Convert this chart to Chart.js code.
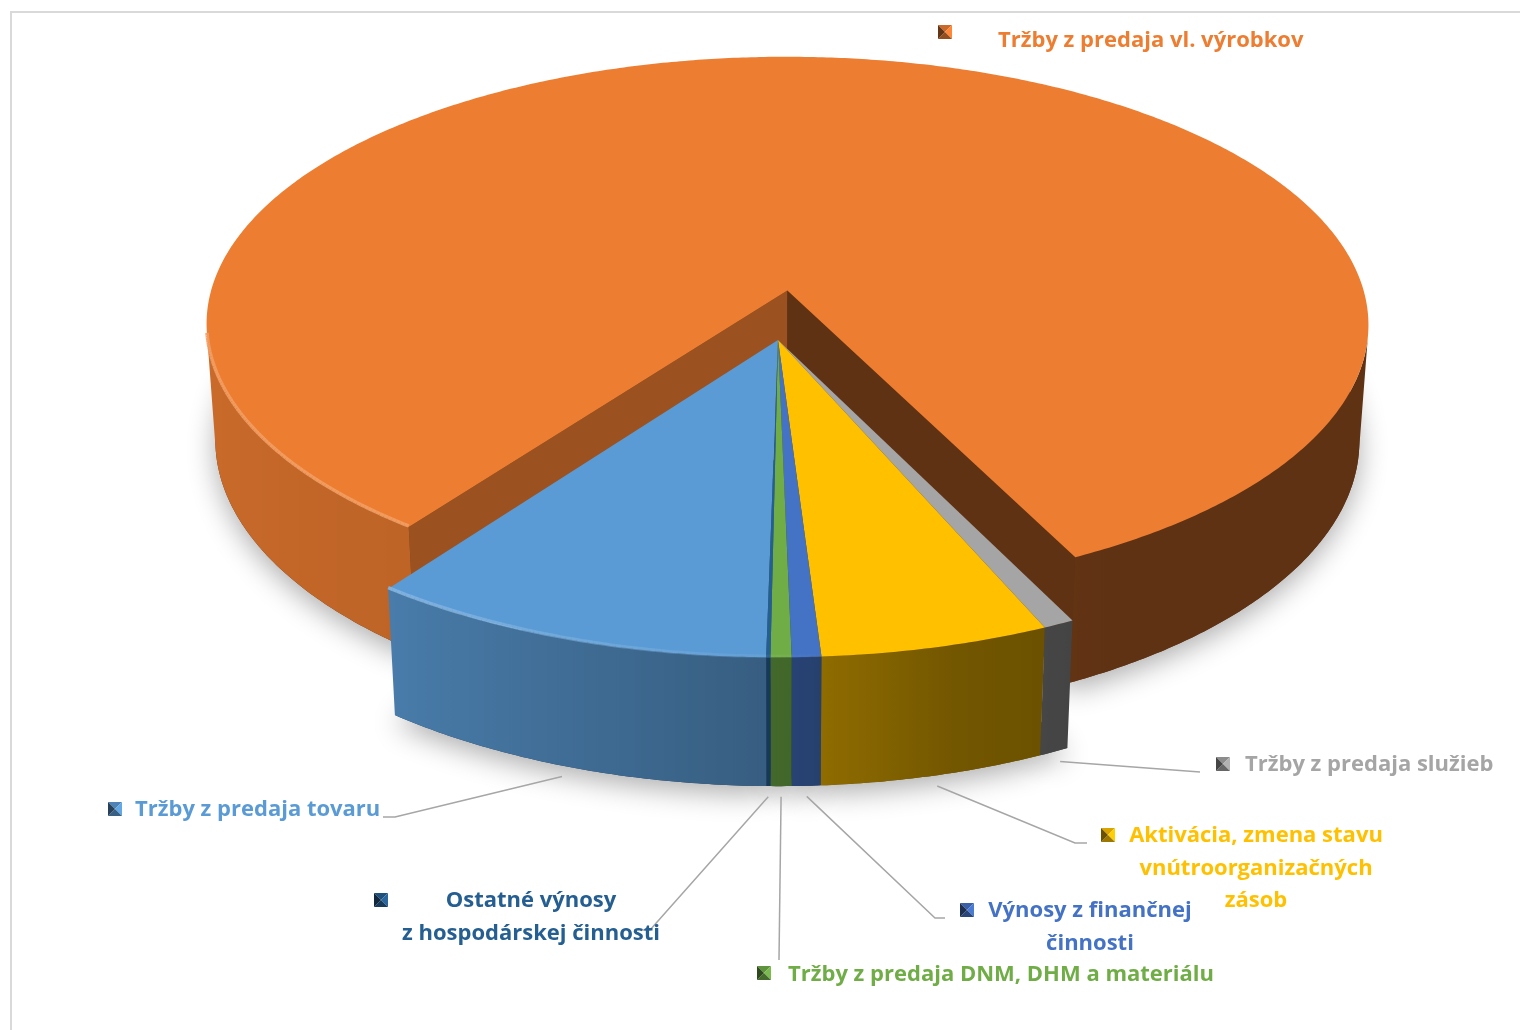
<!DOCTYPE html>
<html>
<head>
<meta charset="utf-8">
<title>Výnosy</title>
<script src="https://cdn.jsdelivr.net/npm/chart.js@4.4.1/dist/chart.umd.min.js"></script>
<style>
  html, body { margin: 0; padding: 0; background: #fff; }
  #wrap { position: relative; width: 1520px; height: 1030px; overflow: hidden; }
  #wrap canvas { position: absolute; left: 0; top: 0; }
  #frame { position: absolute; left: 10px; top: 11px; right: -4px; bottom: -4px;
           border-left: 2px solid #d9d9d9; border-top: 2px solid #d9d9d9; pointer-events: none; }
</style>
</head>
<body>
<div id="wrap">
  <canvas id="pie" width="1520" height="1030"></canvas>
  <div id="frame"></div>
</div>
<script>
// ---- data ---------------------------------------------------------------
const categories = [
  'Tržby z predaja tovaru',
  'Tržby z predaja vl. výrobkov',
  'Tržby z predaja služieb',
  'Aktivácia, zmena stavu vnútroorganizačných zásob',
  'Výnosy z finančnej činnosti',
  'Tržby z predaja DNM, DHM a materiálu',
  'Ostatné výnosy z hospodárskej činnosti'
];
// how each category label is broken into lines
const labelLines = [
  ['Tržby z predaja tovaru'],
  ['Tržby z predaja vl. výrobkov'],
  ['Tržby z predaja služieb'],
  ['Aktivácia, zmena stavu', 'vnútroorganizačných', 'zásob'],
  ['Výnosy z finančnej', 'činnosti'],
  ['Tržby z predaja DNM, DHM a materiálu'],
  ['Ostatné výnosy', 'z hospodárskej činnosti']
];
const shares = [9.8, 82.7, 0.75, 5.5, 0.7, 0.5, 0.1];   // % of total revenue
const sliceColors = ['#5B9BD5', '#ED7D31', '#A5A5A5', '#FFC000', '#4472C4', '#70AD47', '#255E91'];

// ---- 3D view + label layout ----------------------------------------------
const VIEW = { cx: 778, cy: 340, scale: 590, eye: 6.8, tilt: 27.9, thick: 0.2284 };
const sT = Math.sin(VIEW.tilt * Math.PI / 180), cT = Math.cos(VIEW.tilt * Math.PI / 180);

// rim brightness by facing angle (deg, 0 = right, 90 = towards viewer)
const RIM_SHADE = [[0, 0.40], [60, 0.40], [75, 0.45], [90, 0.60], [126, 0.80], [180, 0.87], [360, 0.40]];
const WALL_SHADE = { start: 0.655, end: 0.40 };

const CALLOUTS = [
  { marker: [115, 809], x: 135,  y: 810, align: 'left',   path: [[395, 817], [383, 817]] },
  { marker: [945, 32],  x: 998,  y: 41,  align: 'left',   path: null },
  { marker: [1223, 764], x: 1245, y: 765, align: 'left',  path: [[1200, 772]] },
  { marker: [1108, 835], x: 1256, y: 836, align: 'center', path: [[1075, 843], [1087, 843]] },
  { marker: [967, 910], x: 1090, y: 911, align: 'center', path: [[935, 918], [945, 918]] },
  { marker: [764, 973], x: 788,  y: 975, align: 'left',   path: [[779, 960]] },
  { marker: [381, 900], x: 531,  y: 901, align: 'center', path: [[650, 930], [640, 930]] }
];
const LINE_H = 32.5;
const FONT = 'bold 22px "Open Sans", Lato, sans-serif';

// ---- helpers ------------------------------------------------------------
function rgbOf(hex) { const n = parseInt(hex.slice(1), 16); return [(n >> 16) & 255, (n >> 8) & 255, n & 255]; }
function shade(hex, f) {
  const [r, g, b] = rgbOf(hex);
  return `rgb(${Math.min(255, Math.round(r * f))},${Math.min(255, Math.round(g * f))},${Math.min(255, Math.round(b * f))})`;
}
function tint(hex, t) {
  const [r, g, b] = rgbOf(hex);
  return `rgb(${Math.round(r + (255 - r) * t)},${Math.round(g + (255 - g) * t)},${Math.round(b + (255 - b) * t)})`;
}
function rimShade(t) {
  const d = ((t * 180 / Math.PI) % 360 + 360) % 360;
  for (let i = 1; i < RIM_SHADE.length; i++) {
    const [a0, v0] = RIM_SHADE[i - 1], [a1, v1] = RIM_SHADE[i];
    if (d <= a1) return v0 + (v1 - v0) * (d - a0) / (a1 - a0);
  }
  return 0.4;
}
// pie plane (unit radius) -> screen, with a little perspective
function project(x, y, z) {
  const f = VIEW.eye / (VIEW.eye - y * cT - z * sT);
  return [VIEW.cx + VIEW.scale * x * f, VIEW.cy + VIEW.scale * (y * sT - z * cT) * f];
}
function facesEye(nx, ny, px, py, pz) {
  return nx * (-px) + ny * (VIEW.eye * cT - py) > 0;
}
function steps(s) { return Math.max(2, Math.ceil((s.a1 - s.a0) / (Math.PI / 360))); }
function poly(ctx, pts) {
  ctx.beginPath();
  pts.forEach((p, k) => k ? ctx.lineTo(p[0], p[1]) : ctx.moveTo(p[0], p[1]));
  ctx.closePath();
}

function drawFloor(ctx, s, h) {
  const n = steps(s), pts = [project(s.ox, s.oy, -h)];
  for (let k = 0; k <= n; k++) {
    const t = s.a0 + (s.a1 - s.a0) * k / n;
    pts.push(project(s.ox + Math.cos(t), s.oy + Math.sin(t), -h));
  }
  poly(ctx, pts);
  ctx.fillStyle = shade(s.color, 0.4);
  ctx.fill();
}

function drawWall(ctx, s, t, normal, f, h) {
  const mx = s.ox + 0.5 * Math.cos(t), my = s.oy + 0.5 * Math.sin(t);
  if (!facesEye(Math.cos(normal), Math.sin(normal), mx, my, -h / 2)) return;
  const rx = s.ox + Math.cos(t), ry = s.oy + Math.sin(t);
  poly(ctx, [project(s.ox, s.oy, 0), project(rx, ry, 0), project(rx, ry, -h), project(s.ox, s.oy, -h)]);
  ctx.fillStyle = shade(s.color, f);
  ctx.fill();
}

function fillRim(ctx, s, ts, h) {
  const top = ts.map(t => project(s.ox + Math.cos(t), s.oy + Math.sin(t), 0));
  const bot = ts.map(t => project(s.ox + Math.cos(t), s.oy + Math.sin(t), -h));
  const xs = top.map(p => p[0]);
  const x0 = Math.min(...xs), x1 = Math.max(...xs);
  let fill;
  if (x1 - x0 < 1) fill = shade(s.color, rimShade(ts[0]));
  else {
    fill = ctx.createLinearGradient(x0, 0, x1, 0);
    ts.forEach((t, k) => fill.addColorStop((xs[k] - x0) / (x1 - x0), shade(s.color, rimShade(t))));
  }
  poly(ctx, top.concat(bot.reverse()));
  ctx.fillStyle = fill;
  ctx.fill();
}

function visibleRuns(s, h) {
  const n = steps(s), runs = [];
  let run = [];
  for (let k = 0; k <= n; k++) {
    const t = s.a0 + (s.a1 - s.a0) * k / n;
    if (facesEye(Math.cos(t), Math.sin(t), s.ox + Math.cos(t), s.oy + Math.sin(t), -h / 2)) run.push(t);
    else { if (run.length > 1) runs.push(run); run = []; }
  }
  if (run.length > 1) runs.push(run);
  return runs;
}

function drawTop(ctx, s) {
  const n = steps(s), pts = [project(s.ox, s.oy, 0)];
  for (let k = 0; k <= n; k++) {
    const t = s.a0 + (s.a1 - s.a0) * k / n;
    pts.push(project(s.ox + Math.cos(t), s.oy + Math.sin(t), 0));
  }
  poly(ctx, pts);
  ctx.fillStyle = s.color;
  ctx.fill();
}

// soft light bevel along the lit part of the top edge
function drawBevel(ctx, s, h) {
  visibleRuns(s, h).forEach(run => {
    for (let k = 1; k < run.length; k++) {
      const a = rimShade(run[k]);
      if (a < 0.55) continue;
      const p = project(s.ox + Math.cos(run[k - 1]), s.oy + Math.sin(run[k - 1]), 0);
      const q = project(s.ox + Math.cos(run[k]), s.oy + Math.sin(run[k]), 0);
      ctx.globalAlpha = Math.min(1, (a - 0.55) / 0.25) * 0.9;
      ctx.strokeStyle = tint(s.color, 0.25);
      ctx.lineWidth = 3.5;
      ctx.beginPath(); ctx.moveTo(p[0], p[1] - 1); ctx.lineTo(q[0], q[1] - 1); ctx.stroke();
    }
  });
  ctx.globalAlpha = 1;
}

function slicesOf(chart) {
  return chart.getDatasetMeta(0).data.map((arc, i) => {
    const p = arc.getProps(['startAngle', 'endAngle', 'outerRadius'], true);
    const off = (arc.options.offset || 0) / p.outerRadius;
    const mid = (p.startAngle + p.endAngle) / 2;
    return { i, a0: p.startAngle, a1: p.endAngle, mid,
             ox: off * Math.cos(mid), oy: off * Math.sin(mid), color: arc.options.backgroundColor };
  });
}

const pie3d = {
  id: 'pie3d',
  beforeDatasetsDraw(chart) {
    const ctx = chart.ctx, h = VIEW.thick;
    const slices = slicesOf(chart);

    // slices sharing a centre are drawn together, back group first
    const groups = {};
    slices.forEach(s => { const key = s.ox.toFixed(4) + ',' + s.oy.toFixed(4); (groups[key] = groups[key] || []).push(s); });
    const ordered = Object.values(groups).sort((g1, g2) => g1[0].oy - g2[0].oy);

    ctx.save();
    ctx.shadowColor = 'rgba(0,0,0,0.32)';
    ctx.shadowBlur = 28;
    ctx.shadowOffsetY = 8;
    slices.forEach(s => drawFloor(ctx, s, h));
    ctx.restore();

    ctx.save();
    ordered.forEach(group => {
      group.forEach(s => {
        drawWall(ctx, s, s.a0, s.a0 - Math.PI / 2, WALL_SHADE.start, h);
        drawWall(ctx, s, s.a1, s.a1 + Math.PI / 2, WALL_SHADE.end, h);
      });
      group.forEach(s => visibleRuns(s, h).forEach(run => fillRim(ctx, s, run, h)));
      group.forEach(s => drawTop(ctx, s));
      group.forEach(s => drawBevel(ctx, s, h));
    });
    ctx.restore();
    return false;
  },
  afterDraw(chart) {
    const ctx = chart.ctx, h = VIEW.thick;
    const slices = slicesOf(chart);
    ctx.save();
    slices.forEach(s => {
      const c = CALLOUTS[s.i];
      // leader line from the foot of the slice
      if (c.path) {
        const st = project(s.ox + 1.02 * Math.cos(s.mid), s.oy + 1.02 * Math.sin(s.mid), -h);
        ctx.beginPath();
        ctx.moveTo(st[0], st[1] + 3);
        c.path.forEach(p => ctx.lineTo(p[0], p[1]));
        ctx.strokeStyle = '#A6A6A6';
        ctx.lineWidth = 1.5;
        ctx.stroke();
      }
      // bevelled square marker
      const [mx, my] = c.marker, r = 7;
      const tl = [mx - r, my - r], tr = [mx + r, my - r], br = [mx + r, my + r], bl = [mx - r, my + r], m = [mx, my];
      [[tl, tr, 0.85], [tr, br, 1.08], [br, bl, 0.62], [bl, tl, 0.42]].forEach(([a, b, f]) => {
        poly(ctx, [a, b, m]);
        ctx.fillStyle = shade(s.color, f);
        ctx.fill();
      });
      // label text
      ctx.font = FONT;
      ctx.fillStyle = s.color;
      ctx.textAlign = c.align;
      ctx.textBaseline = 'middle';
      labelLines[s.i].forEach((line, k) => ctx.fillText(line, c.x, c.y + k * LINE_H));
    });
    ctx.restore();
  }
};

new Chart(document.getElementById('pie'), {
  type: 'pie',
  data: {
    labels: categories,
    datasets: [{
      data: shares,
      backgroundColor: sliceColors,
      borderWidth: 0,
      hoverOffset: 0,
      // the main revenue slice is pulled back from the rest
      offset: (c) => c.dataIndex === 1 ? 87 : 0
    }]
  },
  options: {
    responsive: false,
    animation: false,
    events: [],
    rotation: 181,
    layout: { padding: 0 },
    plugins: { legend: { display: false }, tooltip: { enabled: false } }
  },
  plugins: [pie3d]
});
</script>
</body>
</html>
